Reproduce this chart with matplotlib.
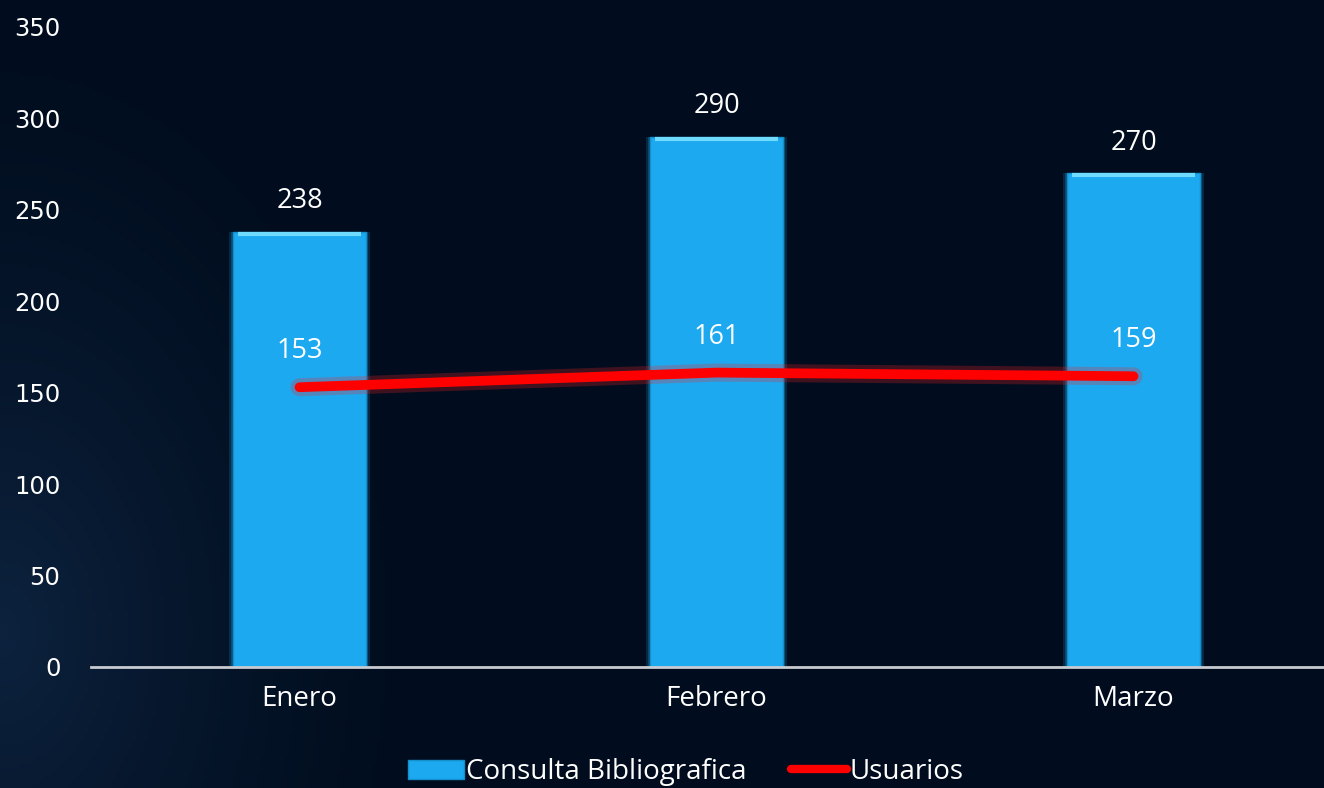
import numpy as np
import matplotlib
matplotlib.use('Agg')
from matplotlib import pyplot as plt
from matplotlib import patheffects as pe
from matplotlib.patches import Patch
from matplotlib.lines import Line2D

# Data
meses = ['Enero', 'Febrero', 'Marzo']
consultas = [238, 290, 270]
usuarios = [153, 161, 159]
y_ticks = [0, 50, 100, 150, 200, 250, 300, 350]

BG = '#010d1e'
BAR = '#1ca9f0'
LINE = '#ff0000'
TXT = '#ffffff'


def background(fig):
    # dark navy with a faint lighter haze along the left side
    bg = fig.add_axes([0, 0, 1, 1], zorder=-10)
    h, w = 200, 330
    yy, xx = np.mgrid[0:h, 0:w]
    d = np.sqrt(((xx - 0) / w) ** 2 * 9 + ((yy - h * 0.8) / h) ** 2 * 1.5)
    glow = np.clip(1 - d, 0, 1) ** 1.5 * 0.55
    base = np.array([1, 13, 30]) / 255.0
    hi = np.array([22, 52, 88]) / 255.0
    img = base + glow[..., None] * (hi - base)
    bg.imshow(img, aspect='auto', extent=[0, 1, 0, 1])
    bg.axis('off')


def main():
    fig = plt.figure(figsize=(13.24, 7.88), dpi=100, facecolor=BG)
    background(fig)

    ax = fig.add_axes([91 / 1324, 1 - 667 / 788, 1251 / 1324, 640 / 788])
    ax.set_facecolor('none')
    x = np.arange(len(meses))

    # soft glow behind bars
    ax.bar(x, consultas, width=0.34, color='#1ca9f0', alpha=0.18, zorder=1)
    ax.bar(x, consultas, width=0.328, color='#1ca9f0', alpha=0.25, zorder=1)
    bars = ax.bar(x, consultas, width=0.317, color=BAR,
                  edgecolor='#1590cc', linewidth=1.0, zorder=2)
    for b, v in zip(bars, consultas):
        # light bevel at top
        ax.plot([b.get_x() + 0.01, b.get_x() + b.get_width() - 0.01], [v - 1, v - 1],
                color='#6fdcff', lw=3, zorder=3, solid_capstyle='butt')
        ax.text(b.get_x() + b.get_width() / 2, v + 9, str(v), ha='center', va='bottom',
                color=TXT, fontsize=19.5, family='Open Sans', zorder=5)

    ax.plot(x, usuarios, color=LINE, lw=7, solid_capstyle='round', zorder=4,
            path_effects=[pe.Stroke(linewidth=13, foreground='#ff2020', alpha=0.25),
                          pe.Normal()])
    for xi, v in zip(x, usuarios):
        ax.text(xi, v + 12, str(v), ha='center', va='bottom',
                color=TXT, fontsize=19.5, family='Open Sans', zorder=5)

    ax.set_xlim(-0.5, 2.5)
    ax.set_ylim(0, 350)
    ax.set_yticks(y_ticks)
    ax.set_xticks(x)
    ax.set_xticklabels(meses, family='Open Sans', fontsize=20, color=TXT)
    ax.tick_params(axis='y', colors=TXT, labelsize=17.5, length=0, pad=22)
    ax.tick_params(axis='x', colors=TXT, length=0, pad=13)
    for lbl in ax.get_yticklabels():
        lbl.set_family('DejaVu Sans')
    for s in ['top', 'right', 'left']:
        ax.spines[s].set_visible(False)
    ax.spines['bottom'].set_color('#c8ccd2')
    ax.spines['bottom'].set_linewidth(2)

    handles = [Patch(facecolor=BAR, edgecolor='#1590cc'),
               Line2D([0], [0], color=LINE, lw=6, solid_capstyle='round')]
    leg = fig.legend(handles, ['Consulta Bibliografica', 'Usuarios'], loc='center',
                     bbox_to_anchor=(0.518, 1 - 772 / 788), ncol=2, frameon=False,
                     prop={'family': 'Open Sans', 'size': 20}, handlelength=2.0,
                     handletextpad=0.1, columnspacing=1.6)
    for t in leg.get_texts():
        t.set_color(TXT)

    fig.savefig('out.png', dpi=100, facecolor=BG)


if __name__ == '__main__':
    main()
